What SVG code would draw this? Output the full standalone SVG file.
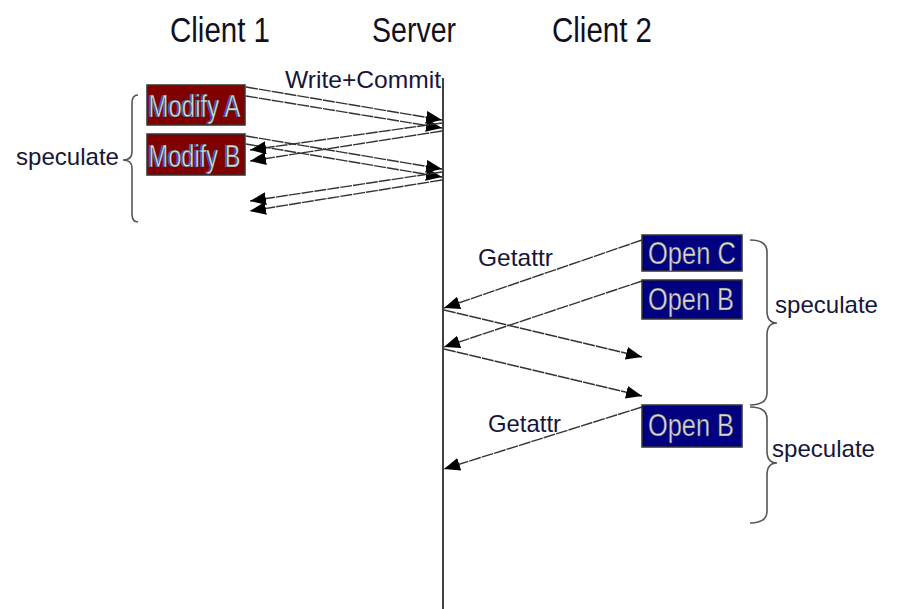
<svg xmlns="http://www.w3.org/2000/svg" width="899" height="609" viewBox="0 0 899 609">
  <style>
    .title { font-family: "Liberation Sans", Arial, sans-serif; font-size: 35px; fill: #101020; }
    .label { font-family: "Liberation Sans", Arial, sans-serif; font-size: 24px; fill: #16163a; }
    .boxtext { font-family: "Liberation Sans", Arial, sans-serif; font-size: 31px; fill: #d8d8d8; stroke: #3a3a3a; stroke-width: 0.5; }
    .boxshade { font-family: "Liberation Sans", Arial, sans-serif; font-size: 31px; fill: #2a5ad0; }
    .modify rect { fill: #800000; stroke: #333; stroke-width: 1.5; }
    .open rect { fill: #000080; stroke: #333; stroke-width: 1.5; }
    .msg { stroke: #333; stroke-width: 1.4; stroke-dasharray: 12 1; fill: none; marker-end: url(#head); }
    .brace { stroke: #555; stroke-width: 1.6; fill: none; }
    .lifeline { stroke: #111; stroke-width: 1.6; }
  </style>
  <defs>
    <marker id="head" markerUnits="userSpaceOnUse" markerWidth="18" markerHeight="14" refX="16" refY="6.5" orient="auto">
      <path d="M0,0 L16,6.5 L0,13 z" fill="#000"/>
    </marker>
  </defs>
  <rect width="899" height="609" fill="#fff"/>

  <!-- column headings -->
  <text class="title" x="170" y="42" textLength="100" lengthAdjust="spacingAndGlyphs">Client 1</text>
  <text class="title" x="372" y="42" textLength="84" lengthAdjust="spacingAndGlyphs">Server</text>
  <text class="title" x="552" y="42" textLength="100" lengthAdjust="spacingAndGlyphs">Client 2</text>

  <!-- server lifeline -->
  <g id="server">
    <line class="lifeline" x1="443" y1="78" x2="443" y2="609"/>
    <text class="label" x="285" y="88" textLength="156" lengthAdjust="spacingAndGlyphs">Write+Commit</text>
  </g>

  <!-- client 1 operations -->
  <g id="modifyA" class="modify">
    <rect x="147" y="85" width="98" height="40"/>
    <text class="boxshade" x="147" y="117" textLength="92" lengthAdjust="spacingAndGlyphs">Modify A</text>
    <text class="boxtext" x="148.5" y="117" textLength="92" lengthAdjust="spacingAndGlyphs">Modify A</text>
  </g>
  <g id="modifyB" class="modify">
    <rect x="147" y="134" width="98" height="41"/>
    <text class="boxshade" x="147" y="167" textLength="92" lengthAdjust="spacingAndGlyphs">Modify B</text>
    <text class="boxtext" x="148.5" y="167" textLength="92" lengthAdjust="spacingAndGlyphs">Modify B</text>
  </g>
  <g id="speculate1">
    <path class="brace" d="M138,95 Q132,95 132,103 L132,152 Q132,160 123,160 Q132,160 132,168 L132,214 Q132,222 138,222"/>
    <text class="label" x="16" y="165" textLength="103" lengthAdjust="spacingAndGlyphs">speculate</text>
  </g>

  <!-- client 2 operations -->
  <g id="openC" class="open">
    <rect x="642" y="235" width="100" height="36"/>
    <text class="boxtext" x="648" y="264" textLength="88" lengthAdjust="spacingAndGlyphs">Open C</text>
  </g>
  <g id="openB1" class="open">
    <rect x="642" y="280" width="100" height="39"/>
    <text class="boxtext" x="648" y="310" textLength="86" lengthAdjust="spacingAndGlyphs">Open B</text>
  </g>
  <g id="openB2" class="open">
    <rect x="642" y="405" width="100" height="42"/>
    <text class="boxtext" x="648" y="436" textLength="86" lengthAdjust="spacingAndGlyphs">Open B</text>
  </g>
  <g id="speculate2">
    <path class="brace" d="M750,240 Q767,240 767,252 L767,311 Q767,323 777,323 Q767,323 767,335 L767,393 Q767,405 750,405"/>
    <text class="label" x="775" y="313" textLength="103" lengthAdjust="spacingAndGlyphs">speculate</text>
  </g>
  <g id="speculate3">
    <path class="brace" d="M750,407 Q767,407 767,419 L767,451 Q767,463 777,463 Q767,463 767,475 L767,511 Q767,523 750,523"/>
    <text class="label" x="772" y="457" textLength="103" lengthAdjust="spacingAndGlyphs">speculate</text>
  </g>

  <!-- message labels -->
  <text class="label" x="478" y="266" textLength="75" lengthAdjust="spacingAndGlyphs">Getattr</text>
  <text class="label" x="488" y="432" textLength="73" lengthAdjust="spacingAndGlyphs">Getattr</text>

  <!-- messages -->
  <g id="connectors">
    <line class="msg" x1="246" y1="87" x2="442" y2="120"/>
    <line class="msg" x1="246" y1="96" x2="442" y2="128"/>
    <line class="msg" x1="246" y1="136" x2="442" y2="169"/>
    <line class="msg" x1="246" y1="144" x2="442" y2="177"/>
    <line class="msg" x1="442" y1="123" x2="250" y2="150"/>
    <line class="msg" x1="442" y1="131" x2="250" y2="161"/>
    <line class="msg" x1="442" y1="172" x2="250" y2="201"/>
    <line class="msg" x1="442" y1="180" x2="250" y2="211"/>

    <line class="msg" x1="642" y1="240" x2="444" y2="308"/>
    <line class="msg" x1="642" y1="281" x2="444" y2="347"/>
    <line class="msg" x1="444" y1="310" x2="642" y2="357"/>
    <line class="msg" x1="444" y1="349" x2="642" y2="396"/>
    <line class="msg" x1="642" y1="407" x2="444" y2="469"/>
  </g>
</svg>
